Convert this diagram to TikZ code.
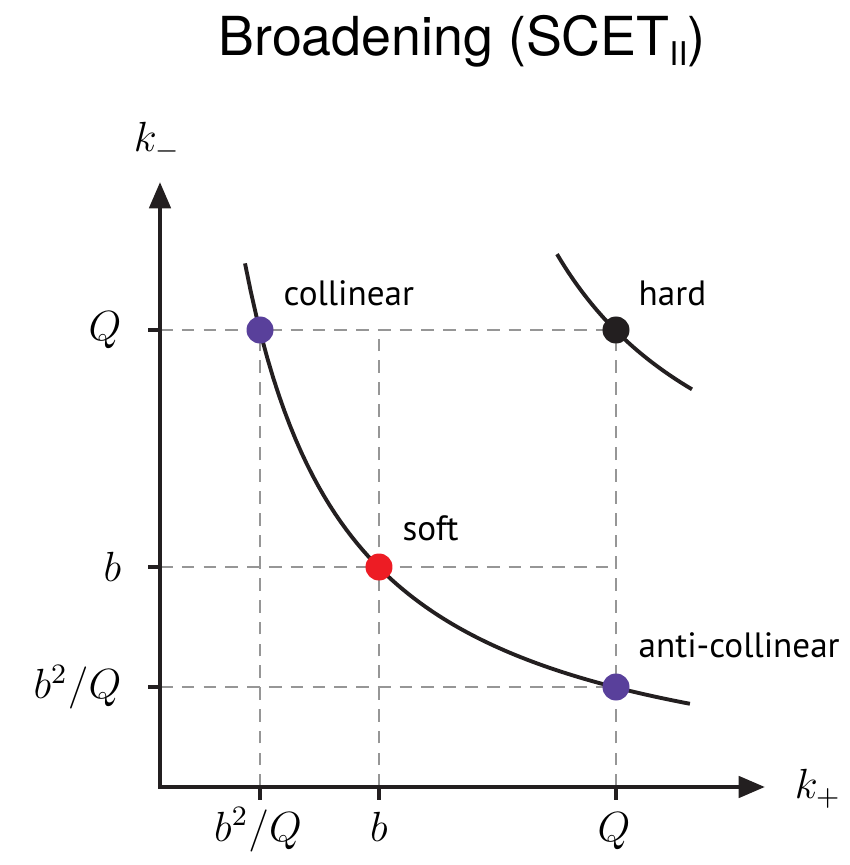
\documentclass[tikz,border=0pt]{standalone}
\usepackage{fontspec}
\setmainfont{PT Sans}
\newfontfamily\titlefont{TeX Gyre Heros}
\usepackage{xcolor}
\usepackage{tikz}
\usetikzlibrary{arrows.meta,positioning}

\definecolor{axisblack}{RGB}{35,31,32}
\definecolor{gridgray}{RGB}{150,150,150}
\definecolor{dotpurple}{RGB}{89,64,155}
\definecolor{dotred}{RGB}{237,28,36}

\begin{document}
\begin{tikzpicture}[
  axis/.style={line width=1.3pt, color=axisblack,
               {Triangle[length=7.5pt,width=6pt]}-{Triangle[length=7.5pt,width=6pt]}},
  tickmark/.style={line width=1.3pt, color=axisblack},
  gridline/.style={line width=0.55pt, color=gridgray, dash pattern=on 3.6pt off 2.6pt},
  curve/.style={line width=1.1pt, color=axisblack},
  dot/.style={circle, inner sep=0pt, minimum size=0.27cm},
  regime/.style={anchor=base west, inner sep=0pt, font=\fontsize{10}{12}\selectfont},
  mathlabel/.style={inner sep=0pt, font=\fontsize{12}{14}\selectfont}
]
  \useasboundingbox (0,0) rectangle (8.5,8.65);

  % title
  \node[anchor=base, font=\titlefont\fontsize{15.3}{18}\selectfont] (title) at (4.62,8.10)
    {Broadening (SCET\raisebox{-2.9pt}{\fontsize{9.3}{11}\selectfont II})};

  % axes and ticks
  \coordinate (origin) at (1.60,0.78);
  \coordinate (xend)   at (7.65,0.78);
  \coordinate (yend)   at (1.60,6.83);
  \coordinate (xsmall) at (2.60,0.78);
  \coordinate (xmid)   at (3.79,0.78);
  \coordinate (xlarge) at (6.16,0.78);
  \coordinate (ylarge) at (1.60,5.35);
  \coordinate (ymid)   at (1.60,2.98);
  \coordinate (ysmall) at (1.60,1.78);

  % points in the plane
  \coordinate (pcoll) at (2.60,5.35);
  \coordinate (psoft) at (3.79,2.98);
  \coordinate (panti) at (6.16,1.78);
  \coordinate (phard) at (6.16,5.35);
  \coordinate (gridtop)   at (3.79,5.35);
  \coordinate (gridright) at (6.16,2.98);

  \draw[gridline] (ylarge) -- (phard);
  \draw[gridline] (ymid) -- (gridright);
  \draw[gridline] (ysmall) -- (panti);
  \draw[gridline] (xsmall) -- (pcoll);
  \draw[gridline] (xmid) -- (gridtop);
  \draw[gridline] (xlarge) -- (phard);

  \draw[curve] plot[domain=2.45:6.90, samples=80] (\x, {0.56+5.8/(\x-1.387)});
  \draw[curve] plot[domain=5.57:6.92, samples=40] (\x, {2.80+6.465/(\x-3.616)});

  \node[dot, fill=dotpurple] (coll) at (pcoll) {};
  \node[dot, fill=dotred]    (soft) at (psoft) {};
  \node[dot, fill=dotpurple] (anti) at (panti) {};
  \node[dot, fill=axisblack] (hard) at (phard) {};

  \draw[axis] (yend) -- (origin) -- (xend);
  \foreach \t in {xsmall,xmid,xlarge} \draw[tickmark] (\t) -- ++(0,-0.13);
  \foreach \t in {ylarge,ymid,ysmall} \draw[tickmark] (\t) -- ++(-0.12,0);

  % axis labels
  \node[mathlabel, anchor=base] (kminus) at (1.57,7.13) {$k_-$};
  \node[mathlabel, anchor=base] (kplus)  at (8.18,0.66) {$k_+$};
  \node[mathlabel, anchor=east] (lyQ)  at (1.22,5.35) {$Q$};
  \node[mathlabel, anchor=east] (lyb)  at (1.22,2.98) {$b$};
  \node[mathlabel, anchor=east] (lyb2) at (1.22,1.78) {$b^2/Q$};
  \node[mathlabel, anchor=base] (lxb2) at (2.58,0.24) {$b^2/Q$};
  \node[mathlabel, anchor=base] (lxb)  at (3.79,0.24) {$b$};
  \node[mathlabel, anchor=base] (lxQ)  at (6.14,0.24) {$Q$};

  % regimes
  \node[regime] (lcoll) at ([shift={(0.23,0.25)}]coll.center) {collinear};
  \node[regime] (lhard) at ([shift={(0.22,0.25)}]hard.center) {hard};
  \node[regime] (lsoft) at ([shift={(0.23,0.27)}]soft.center) {soft};
  \node[regime] (lanti) at ([shift={(0.22,0.30)}]anti.center) {anti-collinear};
\end{tikzpicture}
\end{document}
